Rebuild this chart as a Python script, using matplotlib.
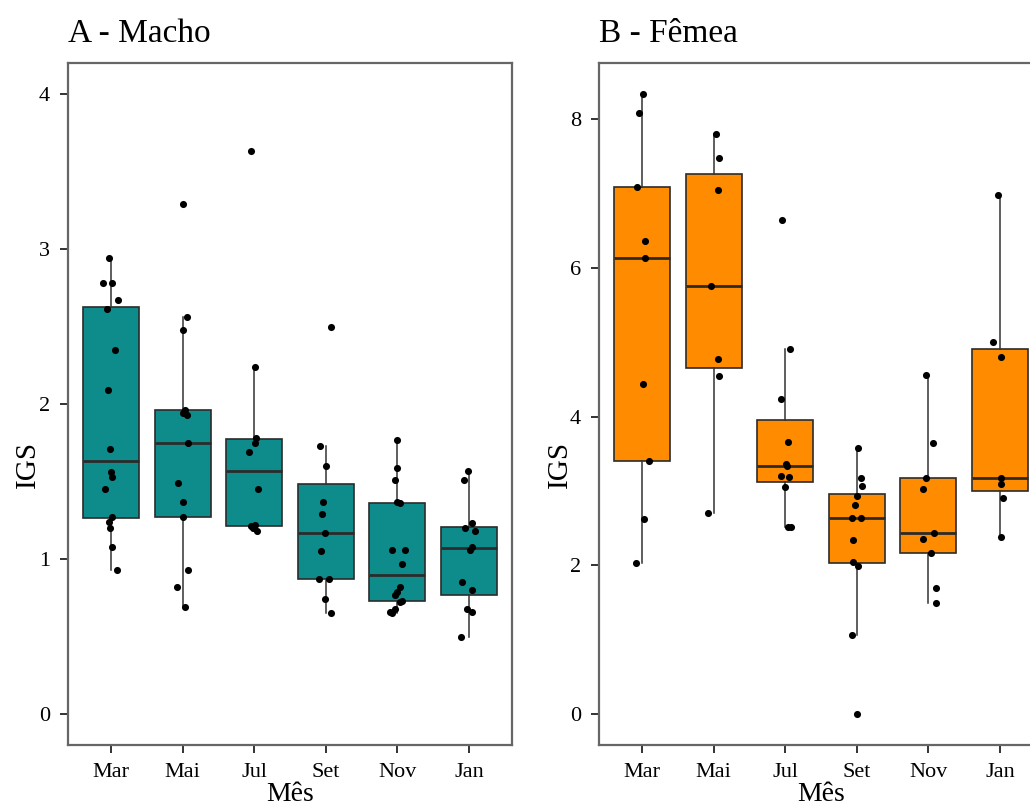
import matplotlib
matplotlib.use("Agg")
import matplotlib.pyplot as plt

plt.rcParams['font.family'] = ['Liberation Serif', 'DejaVu Serif']

meses = ['Mar', 'Mai', 'Jul', 'Set', 'Nov', 'Jan']

# IGS - machos
macho = [
    [2.94, 2.78, 2.78, 2.67, 2.61, 2.35, 2.09, 1.71, 1.56, 1.53, 1.45, 1.27, 1.24, 1.20, 1.08, 0.93],
    [3.29, 2.56, 2.48, 1.96, 1.94, 1.93, 1.75, 1.49, 1.37, 1.27, 0.93, 0.82, 0.69],
    [3.63, 2.24, 1.78, 1.75, 1.69, 1.45, 1.22, 1.21, 1.20, 1.18],
    [2.50, 1.73, 1.60, 1.365, 1.29, 1.165, 1.05, 0.87, 0.87, 0.74, 0.65],
    [1.77, 1.59, 1.51, 1.365, 1.36, 1.06, 1.06, 0.97, 0.82, 0.79, 0.77, 0.73, 0.72, 0.68, 0.66, 0.65],
    [1.565, 1.51, 1.23, 1.20, 1.18, 1.08, 1.06, 0.85, 0.80, 0.675, 0.66, 0.50],
]
# jitter horizontal
macho_jit = [
    [-0.03, -0.11, 0.01, 0.10, -0.06, 0.06, -0.04, -0.01, 0.0, 0.01, -0.08, 0.01, -0.03, -0.01, 0.01, 0.08],
    [0.0, 0.06, 0.01, 0.03, 0.01, 0.06, 0.07, -0.06, 0.0, 0.01, 0.07, -0.08, 0.04],
    [-0.04, 0.01, 0.03, 0.01, -0.07, 0.06, 0.01, -0.04, -0.01, 0.04],
    [0.07, -0.08, 0.0, -0.04, -0.06, -0.01, -0.07, -0.10, 0.04, -0.01, 0.07],
    [-0.01, -0.01, -0.03, 0.0, 0.04, -0.07, 0.10, 0.07, 0.04, 0.0, -0.03, 0.06, 0.03, -0.04, -0.10, -0.07],
    [-0.01, -0.07, 0.04, -0.06, 0.08, 0.04, 0.01, -0.10, 0.04, -0.03, 0.04, -0.11],
]

# IGS - femeas
femea = [
    [8.34, 8.09, 7.09, 6.36, 6.13, 4.44, 3.40, 2.62, 2.03],
    [7.80, 7.48, 7.05, 5.76, 4.78, 4.54, 2.71],
    [6.64, 4.91, 4.24, 3.66, 3.36, 3.33, 3.20, 3.19, 3.05, 2.51, 2.51],
    [3.58, 3.18, 3.07, 2.93, 2.81, 2.63, 2.63, 2.34, 2.04, 1.99, 1.06, 0.0],
    [4.56, 3.64, 3.17, 3.02, 2.44, 2.35, 2.17, 1.69, 1.49],
    [6.98, 5.01, 4.80, 3.17, 3.10, 2.91, 2.38],
]
femea_jit = [
    [0.01, -0.04, -0.07, 0.04, 0.04, 0.01, 0.10, 0.03, -0.08],
    [0.03, 0.08, 0.06, -0.04, 0.06, 0.07, -0.08],
    [-0.04, 0.07, -0.06, 0.04, 0.01, 0.03, -0.06, 0.06, 0.0, 0.04, 0.08],
    [0.01, 0.06, 0.07, 0.0, -0.03, -0.07, 0.06, -0.06, -0.06, 0.01, -0.07, 0.0],
    [-0.03, 0.06, -0.04, -0.07, 0.08, -0.07, 0.03, 0.10, 0.10],
    [-0.03, -0.10, 0.01, 0.01, 0.01, 0.04, 0.01],
]

W, H = 1030, 807
fig = plt.figure(figsize=(W / 100, H / 100), dpi=100)

ax1 = fig.add_axes([68 / W, 62 / H, 444 / W, 682 / H])
ax2 = fig.add_axes([599 / W, 62 / H, 444 / W, 682 / H])


def painel(ax, dados, jit, cor, ylim, yticks):
    pos = list(range(1, len(meses) + 1))
    ax.boxplot(dados, positions=pos, widths=0.78, patch_artist=True,
               showfliers=False, whis=1.5,
               boxprops=dict(facecolor=cor, edgecolor='#2b2b2b', linewidth=1.2),
               medianprops=dict(color='#2b2b2b', linewidth=2.0),
               whiskerprops=dict(color='#333333', linewidth=1.1),
               capprops=dict(linewidth=0))
    for i, (vals, dj) in enumerate(zip(dados, jit)):
        xs = [pos[i] + d for d in dj]
        ax.scatter(xs, vals, s=26, color='black', zorder=5, linewidths=0)
    ax.set_xlim(0.4, 6.6)
    ax.set_ylim(*ylim)
    ax.set_yticks(yticks)
    ax.set_xticks(pos)
    ax.set_xticklabels(meses)
    for s in ax.spines.values():
        s.set_color('#666666')
        s.set_linewidth(1.6)
    ax.tick_params(axis='both', length=6, width=1.4, color='#333333',
                   labelsize=16, pad=7)
    ax.set_xlabel('Mês', fontsize=20, labelpad=0)


painel(ax1, macho, macho_jit, '#0E8B8B', (-0.2, 4.2), [0, 1, 2, 3, 4])
painel(ax2, femea, femea_jit, '#FF8C00', (-0.417, 8.757), [0, 2, 4, 6, 8])

fig.text(68 / W, 1 - 42 / H, 'A - Macho', fontsize=24, ha='left', va='baseline')
fig.text(599 / W, 1 - 42 / H, 'B - Fêmea', fontsize=24, ha='left', va='baseline')
fig.text(28 / W, 1 - 465 / H, 'IGS', fontsize=21, rotation=90, ha='center', va='center')
fig.text(560 / W, 1 - 465 / H, 'IGS', fontsize=21, rotation=90, ha='center', va='center')

fig.savefig('out.png', dpi=100)
